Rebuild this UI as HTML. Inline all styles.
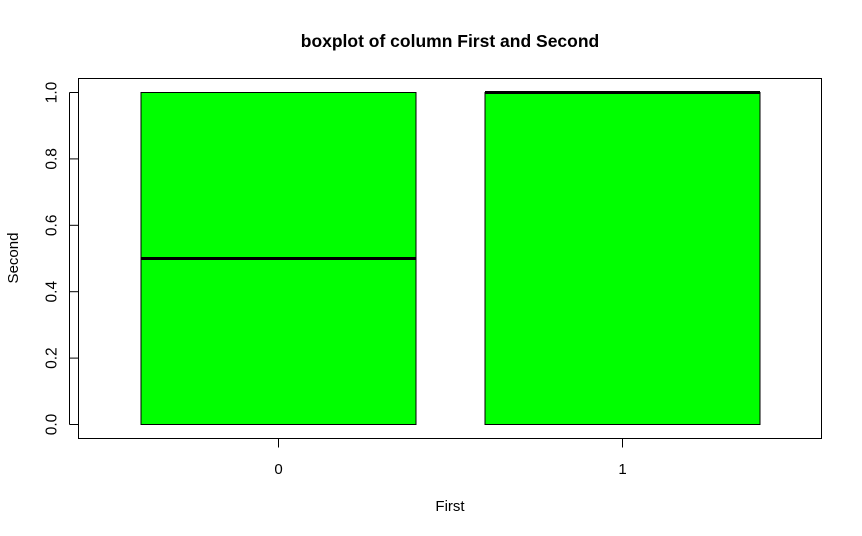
<!DOCTYPE html>
<html><head><meta charset="utf-8"><style>
html,body{margin:0;padding:0;background:#fff}
svg{display:block;font-family:"Liberation Sans",Arial,sans-serif}
</style></head><body>
<svg id="chart" width="862" height="536" viewBox="0 0 862 536" xmlns="http://www.w3.org/2000/svg">
<text x="450" y="47" text-anchor="middle" font-size="17.5" font-weight="bold">boxplot of column First and Second</text>
<rect x="78.5" y="78.5" width="743" height="360" fill="none" stroke="#000" stroke-width="1"/>
<g id="boxes"></g>
<g id="yaxis"></g>
<g id="xaxis"></g>
<text x="450" y="511" text-anchor="middle" font-size="15">First</text>
<text transform="translate(18,258) rotate(-90)" text-anchor="middle" font-size="15">Second</text>
</svg>
<script>
const categories = ["0", "1"];
const q1 = [0, 0];
const medians = [0.5, 1];
const q3 = [1, 1];
const yTicks = [0, 0.2, 0.4, 0.6, 0.8, 1.0];
const yTickLabels = ["0.0", "0.2", "0.4", "0.6", "0.8", "1.0"];

const NS = "http://www.w3.org/2000/svg";
function y(v){ return 424.5 - v * 332; }
function x(i){ return 278.5 + i * 344; }
const halfW = 137.5;
function mk(tag, attrs, parent){
  const e = document.createElementNS(NS, tag);
  for (const k in attrs) e.setAttribute(k, attrs[k]);
  parent.appendChild(e);
  return e;
}
const boxes = document.getElementById('boxes');
categories.forEach((c, i) => {
  const r = mk('rect', {x: x(i) - halfW, y: y(q3[i]), width: 2 * halfW, height: y(q1[i]) - y(q3[i]), fill: '#00ff00', stroke: '#000', 'stroke-width': 1}, boxes);
  
  
  const m = mk('line', {x1: x(i) - halfW, x2: x(i) + halfW, y1: y(medians[i]), y2: y(medians[i]), stroke: '#000', 'stroke-width': 3}, boxes);
  
  
});
const ya = document.getElementById('yaxis');
const yl = mk('line', {x1: 69.5, x2: 69.5, y1: y(0), y2: y(1), stroke: '#000'}, ya);


yTicks.forEach((v, i) => {
  const t = mk('line', {x1: 69.5, x2: 78.5, y1: y(v), y2: y(v), stroke: '#000'}, ya);
  
  
  const tx = mk('text', {transform: 'translate(56.5,' + y(v) + ') rotate(-90)', 'text-anchor': 'middle', 'font-size': 15.5}, ya);
  tx.textContent = yTickLabels[i];
  
  
});
const xa = document.getElementById('xaxis');
const xl = mk('line', {x1: x(0), x2: x(1), y1: 438.5, y2: 438.5, stroke: '#000'}, xa);


categories.forEach((c, i) => {
  const t = mk('line', {x1: x(i), x2: x(i), y1: 438.5, y2: 447.5, stroke: '#000'}, xa);
  
  
  const tx = mk('text', {x: x(i), y: 474, 'text-anchor': 'middle', 'font-size': 15}, xa);
  tx.textContent = c;
  
  
});
</script>
</body></html>
